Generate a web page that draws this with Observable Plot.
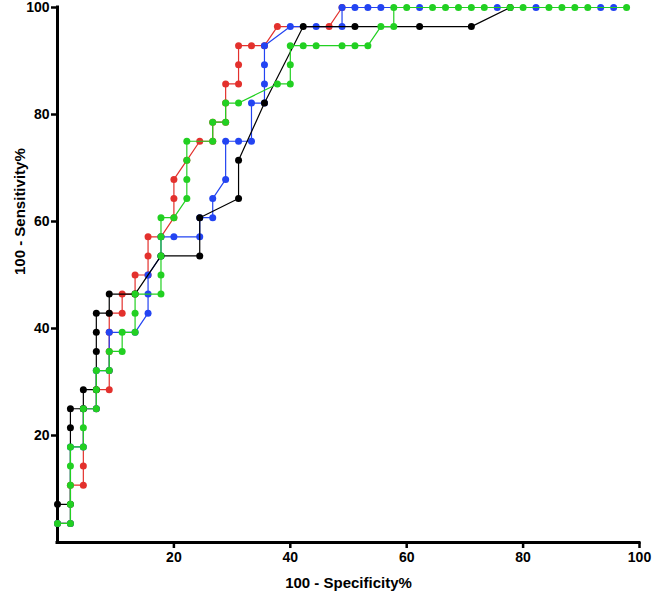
<!DOCTYPE html>
<html>
<head>
<meta charset="utf-8">
<script src="https://cdn.jsdelivr.net/npm/d3@7"></script>
<script src="https://cdn.jsdelivr.net/npm/@observablehq/plot@0.6"></script>
<style>
  html, body { margin: 0; padding: 0; background: #fff; }
  #chart { width: 653px; height: 598px; }
</style>
</head>
<body>
<div id="chart"></div>
<script>
// 100 - Specificity% (x) and Sensitivity% (y) for each ROC curve
const blackX = [0, 2.22, 2.22, 2.22, 4.44, 4.44, 6.67, 6.67, 6.67, 6.67, 8.89, 8.89, 13.33, 17.78, 24.44, 24.44, 31.11, 31.11, 35.56, 42.22, 51.11, 62.22, 71.11, 77.78];
const blackY = [7.14, 7.14, 21.43, 25.00, 25.00, 28.57, 28.57, 35.71, 39.29, 42.86, 42.86, 46.43, 46.43, 53.57, 53.57, 60.71, 64.29, 71.43, 82.14, 96.43, 96.43, 96.43, 96.43, 100];

const redX = [0, 2.22, 2.22, 4.44, 4.44, 4.44, 6.67, 6.67, 8.89, 8.89, 8.89, 8.89, 8.89, 11.11, 11.11, 13.33, 13.33, 15.56, 15.56, 15.56, 17.78, 20.00, 20.00, 20.00, 22.22, 24.44, 26.67, 26.67, 28.89, 28.89, 28.89, 31.11, 31.11, 31.11, 33.33, 35.56, 37.78, 46.67, 48.89];
const redY = [3.57, 3.57, 10.71, 10.71, 14.29, 25.00, 25.00, 28.57, 28.57, 32.14, 35.71, 39.29, 42.86, 42.86, 46.43, 46.43, 50.00, 50.00, 53.57, 57.14, 57.14, 60.71, 64.29, 67.86, 71.43, 75.00, 75.00, 78.57, 78.57, 82.14, 85.71, 85.71, 89.29, 92.86, 92.86, 92.86, 96.43, 96.43, 100];

const blueX = [0, 2.22, 2.22, 4.44, 4.44, 6.67, 6.67, 8.89, 8.89, 13.33, 15.56, 15.56, 15.56, 17.78, 17.78, 20.00, 24.44, 24.44, 26.67, 26.67, 28.89, 28.89, 31.11, 33.33, 33.33, 35.56, 35.56, 35.56, 35.56, 40.00, 44.44, 48.89, 48.89, 51.11, 53.33, 55.56, 62.22, 75.56, 82.22, 93.33, 95.56];
const blueY = [3.57, 3.57, 17.86, 17.86, 25.00, 25.00, 32.14, 32.14, 39.29, 39.29, 42.86, 46.43, 50.00, 53.57, 57.14, 57.14, 57.14, 60.71, 60.71, 64.29, 67.86, 75.00, 75.00, 75.00, 82.14, 82.14, 85.71, 89.29, 92.86, 96.43, 96.43, 96.43, 100, 100, 100, 100, 100, 100, 100, 100, 100];

const greenX = [0, 2.22, 2.22, 2.22, 2.22, 2.22, 4.44, 4.44, 4.44, 6.67, 6.67, 6.67, 8.89, 8.89, 11.11, 11.11, 13.33, 13.33, 13.33, 17.78, 17.78, 17.78, 17.78, 17.78, 20.00, 22.22, 22.22, 22.22, 22.22, 26.67, 26.67, 28.89, 28.89, 31.11, 37.78, 40.00, 40.00, 40.00, 42.22, 44.44, 48.89, 51.11, 53.33, 55.56, 57.78, 57.78, 60.00, 64.44, 66.67, 68.89, 71.11, 73.33, 77.78, 80.00, 84.44, 86.67, 88.89, 91.11, 97.78];
const greenY = [3.57, 3.57, 7.14, 10.71, 14.29, 17.86, 17.86, 21.43, 25.00, 25.00, 28.57, 32.14, 32.14, 35.71, 35.71, 39.29, 39.29, 42.86, 46.43, 46.43, 50.00, 53.57, 57.14, 60.71, 60.71, 64.29, 67.86, 71.43, 75.00, 75.00, 78.57, 78.57, 82.14, 82.14, 85.71, 85.71, 89.29, 92.86, 92.86, 92.86, 92.86, 92.86, 92.86, 96.43, 96.43, 100, 100, 100, 100, 100, 100, 100, 100, 100, 100, 100, 100, 100, 100];

const xTicks = [20, 40, 60, 80, 100];
const yTicks = [20, 40, 60, 80, 100];
const xTitle = "100 - Specificity%";
const yTitle = "100 - Sensitivity%";

// drawing order: red, blue, black, green (green on top)
const series = [
  {name: "red", xs: redX, ys: redY, color: "#e3312d"},
  {name: "blue", xs: blueX, ys: blueY, color: "#2344f2"},
  {name: "black", xs: blackX, ys: blackY, color: "#000000"},
  {name: "green", xs: greenX, ys: greenY, color: "#22d022"}
];

const seriesMarks = series.flatMap(s => {
  const rows = s.xs.map((x, i) => ({x, y: s.ys[i]}));
  return [
    Plot.line(rows, {x: "x", y: "y", stroke: s.color, strokeWidth: 1.2}),
    Plot.dot(rows, {x: "x", y: "y", r: 3.5, fill: s.color, stroke: "none"})
  ];
});

const chart = Plot.plot({
  width: 653,
  height: 598,
  marginLeft: 57,
  marginRight: 14,
  marginTop: 7,
  marginBottom: 56,
  style: {fontFamily: "'Liberation Sans', Arial, sans-serif", background: "#fff", color: "#000"},
  x: {domain: [0, 100]},
  y: {domain: [0, 100]},
  marks: [
    Plot.axisX({ticks: xTicks, tickSize: 6, tickPadding: 4, fontSize: 14, fontWeight: "bold", strokeWidth: 2.5, label: null}),
    Plot.axisY({ticks: yTicks, tickSize: 6, tickPadding: 2, fontSize: 14, fontWeight: "bold", strokeWidth: 2.5, label: null}),
    Plot.ruleX([0], {strokeWidth: 3, strokeLinecap: "square"}),
    Plot.ruleY([0], {strokeWidth: 3, strokeLinecap: "square"}),
    Plot.text([xTitle], {text: d => d, frameAnchor: "bottom", dy: 45, fontSize: 15, fontWeight: "bold"}),
    Plot.text([yTitle], {text: d => d, frameAnchor: "left", dx: -37, rotate: -90, fontSize: 15, fontWeight: "bold"}),
    ...seriesMarks
  ]
});
document.getElementById("chart").appendChild(chart);
</script>
</body>
</html>
